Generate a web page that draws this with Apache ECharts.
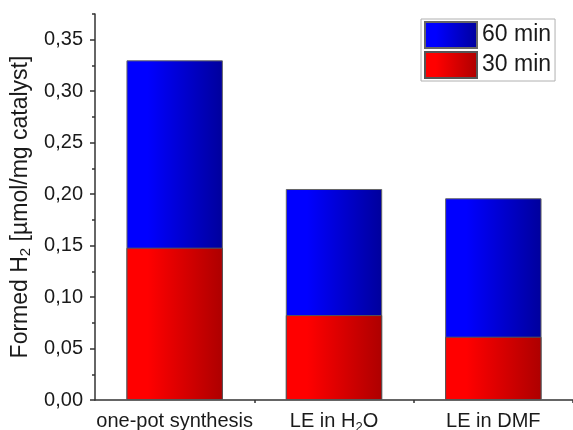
<!DOCTYPE html>
<html>
<head>
<meta charset="utf-8">
<script src="https://cdn.jsdelivr.net/npm/echarts@6/dist/echarts.min.js"></script>
<style>html,body{margin:0;padding:0;background:#fff}#c{width:573px;height:430px}</style>
</head>
<body>
<div id="c"></div>
<script>
var categories = ['one-pot synthesis', 'LE in H2O', 'LE in DMF'];
var categoryLabels = ['{a|one-pot synthesis}', '{a|LE in H}{s|2}{a|O}', '{a|LE in DMF}'];
var series60 = [0.330, 0.205, 0.196];
var series30 = [0.148, 0.0825, 0.0615];
var seriesNames = ['60 min', '30 min'];
var yMajorTicks = [0, 0.05, 0.10, 0.15, 0.20, 0.25, 0.30, 0.35];
var yMinorTicks = [0.025, 0.075, 0.125, 0.175, 0.225, 0.275, 0.325, 0.375];
var xMinorTicks = [1, 2, 3];

var FONT = 'Liberation Sans, Arial, sans-serif';
function grad(c0, c1) {
  return new echarts.graphic.LinearGradient(0, 0, 1, 0, [
    {offset: 0, color: c0}, {offset: 0.22, color: c0}, {offset: 1, color: c1}
  ]);
}
var chart = echarts.init(document.getElementById('c'));
chart.setOption({
  animation: false,
  backgroundColor: '#fff',
  textStyle: {fontFamily: FONT},
  grid: {left: 95, right: 0, top: 14, bottom: 30, containLabel: false, outerBoundsMode: 'none'},
  legend: {
    data: seriesNames,
    orient: 'vertical',
    left: 421, top: 19,
    padding: [2, 4, 2, 3],
    itemGap: 2,
    itemWidth: 52, itemHeight: 26,
    icon: 'rect',
    borderColor: '#b0b0b0', borderWidth: 1,
    textStyle: {fontSize: 23, color: '#1a1a1a', fontFamily: FONT, lineHeight: 26}
  },
  xAxis: [{
    type: 'category',
    data: categories,
    axisLine: {lineStyle: {color: '#333', width: 1.5}},
    axisTick: {alignWithLabel: true, length: 5, lineStyle: {color: '#333', width: 1.5}},
    axisLabel: {
      margin: 11,
      formatter: function (v, i) { return categoryLabels[i]; },
      rich: {
        a: {fontSize: 20, color: '#1a1a1a', fontFamily: FONT, lineHeight: 20},
        s: {fontSize: 13, color: '#1a1a1a', fontFamily: FONT, lineHeight: 13, padding: [12, 0, 0, 0]}
      }
    }
  }, {
    type: 'value', min: 0, max: 3, position: 'bottom',
    axisLine: {show: false}, splitLine: {show: false},
    axisLabel: {show: false},
    axisTick: {show: true, length: 3, customValues: xMinorTicks, lineStyle: {color: '#333', width: 1.5}}
  }],
  yAxis: [{
    type: 'value', min: 0, max: 0.375, interval: 0.05,
    name: 'Formed H{s|2} [µmol/mg catalyst]',
    nameLocation: 'middle', nameGap: 58,
    nameTextStyle: {
      fontSize: 23, color: '#1a1a1a', fontFamily: FONT,
      rich: {s: {fontSize: 15, color: '#1a1a1a', fontFamily: FONT, padding: [0, 0, -10, 0]}}
    },
    axisLine: {show: true, lineStyle: {color: '#333', width: 1.5}},
    axisTick: {show: true, length: 5, customValues: yMajorTicks, lineStyle: {color: '#333', width: 1.5}},
    splitLine: {show: false},
    axisLabel: {
      customValues: yMajorTicks,
      fontSize: 20, color: '#1a1a1a', margin: 12, fontFamily: FONT,
      formatter: function (v) { return v.toFixed(2).replace('.', ','); }
    }
  }, {
    type: 'value', min: 0, max: 0.375, interval: 0.025, position: 'left',
    axisLine: {show: false}, splitLine: {show: false},
    axisLabel: {show: false},
    axisTick: {show: true, length: 3, customValues: yMinorTicks, lineStyle: {color: '#333', width: 1.5}}
  }],
  series: [{
    name: seriesNames[0], type: 'bar', data: series60,
    barWidth: '60.5%', barGap: '-100%',
    itemStyle: {color: grad('#0000ff', '#00009c'), borderColor: '#666', borderWidth: 1}
  }, {
    name: seriesNames[1], type: 'bar', data: series30,
    barWidth: '60.5%', barGap: '-100%',
    itemStyle: {color: grad('#ff0000', '#ad0000'), borderColor: '#555', borderWidth: 1}
  }]
});
</script>
</body>
</html>
